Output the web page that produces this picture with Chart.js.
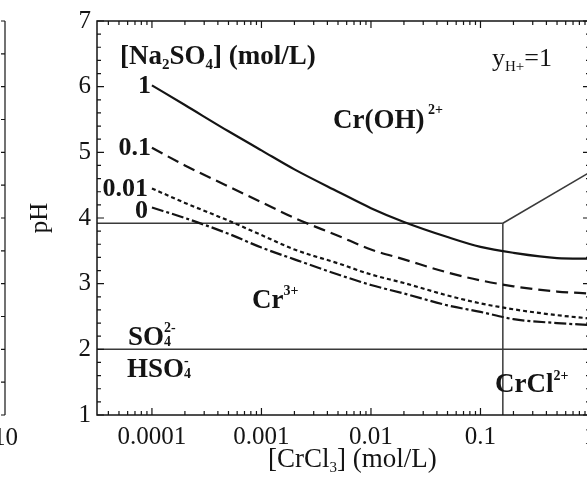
<!DOCTYPE html>
<html><head><meta charset="utf-8">
<script src="https://cdn.jsdelivr.net/npm/chart.js@4.4.1/dist/chart.umd.min.js"></script>
<style>
html,body{margin:0;padding:0;background:#fff;overflow:hidden;width:587px;height:486px}
#wrap{position:absolute;left:0;top:0;width:600px;height:486px}
</style></head><body>
<div id="wrap"><canvas id="c"></canvas></div>
<script>
// ---- data ----
const crcl3 = [0.0001, 0.0002, 0.0005, 0.001, 0.002, 0.005, 0.01, 0.02, 0.05, 0.1, 0.2, 0.5, 1];
const pH_na2so4_1    = [6.02, 5.72, 5.32, 5.03, 4.74, 4.40, 4.15, 3.94, 3.71, 3.56, 3.47, 3.39, 3.38];
const pH_na2so4_0_1  = [5.07, 4.80, 4.48, 4.24, 4.00, 3.73, 3.52, 3.37, 3.17, 3.05, 2.96, 2.88, 2.85];
const pH_na2so4_0_01 = [4.45, 4.23, 3.96, 3.74, 3.52, 3.31, 3.14, 3.01, 2.82, 2.70, 2.61, 2.52, 2.47];
const pH_na2so4_0    = [4.16, 4.00, 3.76, 3.55, 3.37, 3.14, 2.98, 2.85, 2.67, 2.57, 2.46, 2.40, 2.37];
const seriesLabels = ['1', '0.1', '0.01', '0'];

// phase boundaries
const crohBoundX = [3.15e-5, 0.16], crohBoundY = [3.92, 3.92];
const crclBoundX = [0.16, 0.16],    crclBoundY = [3.92, 1];
const crclCrohX  = [0.16, 1],       crclCrohY  = [3.92, 4.70];
const so4BoundX  = [3.15e-5, 1],    so4BoundY  = [2, 2];

const xTickValues = [0.0001, 0.001, 0.01, 0.1, 1];
const xTickLabels = ['0.0001', '0.001', '0.01', '0.1', '1'];
const yTickValues = [1, 2, 3, 4, 5, 6, 7];

// ---- styling ----
const SERIF = '"Liberation Serif", "Times New Roman", serif';
const INK = '#141414';
const LINE = '#3a3a3a';

function pts(xs, ys) { return xs.map((x, i) => ({ x: x, y: ys[i] })); }
function curve(label, ys, dash) {
  return { label: label, data: pts(crcl3, ys), borderColor: INK, borderWidth: 2.2, borderDash: dash,
           pointRadius: 0, tension: 0.4, cubicInterpolationMode: 'monotone', fill: false };
}
function boundary(xs, ys) {
  return { label: '', data: pts(xs, ys), borderColor: LINE, borderWidth: 1.5, pointRadius: 0, tension: 0, fill: false };
}

function rich(ctx, x, y, parts, align) {
  let total = 0;
  const setFont = p => { ctx.font = (p.b ? 'bold ' : '') + p.s + 'px ' + SERIF; };
  const widths = parts.map(p => {
    setFont(p);
    if (p.stack) return Math.max(ctx.measureText(p.sub).width, ctx.measureText(p.sup).width);
    return ctx.measureText(p.t).width;
  });
  widths.forEach(w => total += w);
  let cx = align === 'right' ? x - total : x;
  ctx.textAlign = 'left';
  ctx.textBaseline = 'alphabetic';
  ctx.fillStyle = INK;
  parts.forEach((p, i) => {
    setFont(p);
    if (p.stack) {
      ctx.fillText(p.sub, cx, y + p.subDy);
      ctx.fillText(p.sup, cx, y + p.supDy);
    } else {
      ctx.fillText(p.t, cx, y + (p.dy || 0));
    }
    cx += widths[i];
  });
}

const decor = {
  id: 'decor',
  afterDraw(chart) {
    const ctx = chart.ctx;
    const a = chart.chartArea;
    const xs = chart.scales.x, ys = chart.scales.y;
    ctx.save();
    ctx.strokeStyle = INK;
    ctx.lineWidth = 1.5;
    ctx.strokeRect(a.left, a.top, a.right - a.left, a.bottom - a.top);
    ctx.lineWidth = 1.2;
    ctx.beginPath();
    for (let e = -5; e <= 0; e++) {
      for (let m = 1; m <= 9; m++) {
        const v = m * Math.pow(10, e);
        if (v < xs.min * 0.999 || v > xs.max * 1.001) continue;
        const px = xs.getPixelForValue(v);
        const len = m === 1 ? 7 : 4;
        ctx.moveTo(px, a.bottom); ctx.lineTo(px, a.bottom - len);
        ctx.moveTo(px, a.top); ctx.lineTo(px, a.top + len);
      }
    }
    for (let k = 0; k <= 30; k++) {
      const v = 1 + k * 0.2;
      const py = ys.getPixelForValue(v);
      const len = (k % 5 === 0) ? 7 : 4;
      ctx.moveTo(a.left, py); ctx.lineTo(a.left + len, py);
      ctx.moveTo(a.right, py); ctx.lineTo(a.right - len, py);
    }
    // remnant of neighbouring panel at far left
    ctx.moveTo(5, a.top); ctx.lineTo(5, a.bottom);
    for (let k = 0; k <= 12; k++) {
      const py = ys.getPixelForValue(1 + k * 0.5);
      ctx.moveTo(5, py); ctx.lineTo(1, py);
    }
    ctx.stroke();

    const B = 27, S = 15;
    rich(ctx, 120, 64, [
      { t: '[Na', s: B, b: true }, { t: '2', s: S, b: true, dy: 5 }, { t: 'SO', s: B, b: true },
      { t: '4', s: S, b: true, dy: 5 }, { t: '] (mol/L)', s: B, b: true }]);
    rich(ctx, 492, 66, [{ t: 'y', s: 26 }, { t: 'H+', s: 15, dy: 5 }, { t: '=1', s: 26 }]);
    rich(ctx, 151, 93, [{ t: seriesLabels[0], s: 26, b: true }], 'right');
    rich(ctx, 151, 155, [{ t: seriesLabels[1], s: 26, b: true }], 'right');
    rich(ctx, 148, 196, [{ t: seriesLabels[2], s: 26, b: true }], 'right');
    rich(ctx, 148, 218, [{ t: seriesLabels[3], s: 26, b: true }], 'right');
    rich(ctx, 333, 128, [{ t: 'Cr(OH)', s: B, b: true }, { t: ' 2+', s: 14, b: true, dy: -14 }]);
    rich(ctx, 252, 308, [{ t: 'Cr', s: B, b: true }, { t: '3+', s: 14, b: true, dy: -13 }]);
    rich(ctx, 128, 345, [{ t: 'SO', s: B, b: true }, { stack: true, sub: '4', sup: '2-', subDy: 1, supDy: -13, s: 14, b: true }]);
    rich(ctx, 127, 377, [{ t: 'HSO', s: B, b: true }, { stack: true, sub: '4', sup: '-', subDy: 1, supDy: -12, s: 14, b: true }]);
    rich(ctx, 495, 392, [{ t: 'CrCl', s: B, b: true }, { t: '2+', s: 14, b: true, dy: -12 }]);
    rich(ctx, 268, 467, [{ t: '[CrCl', s: 27 }, { t: '3', s: 15, dy: 5 }, { t: '] (mol/L)', s: 27 }]);
    rich(ctx, 18, 445, [{ t: '10', s: 25 }], 'right');
    ctx.restore();
  }
};

new Chart(document.getElementById('c'), {
  type: 'line',
  data: {
    datasets: [
      curve(seriesLabels[0], pH_na2so4_1, []),
      curve(seriesLabels[1], pH_na2so4_0_1, [12, 6]),
      curve(seriesLabels[2], pH_na2so4_0_01, [4, 3]),
      curve(seriesLabels[3], pH_na2so4_0, [12, 3, 3, 3]),
      boundary(crohBoundX, crohBoundY),
      boundary(crclBoundX, crclBoundY),
      boundary(crclCrohX, crclCrohY),
      boundary(so4BoundX, so4BoundY)
    ]
  },
  options: {
    responsive: true,
    maintainAspectRatio: false,
    animation: false,
    layout: { padding: { left: 0, right: 10, top: 21, bottom: 0 } },
    plugins: { legend: { display: false }, tooltip: { enabled: false } },
    scales: {
      x: {
        type: 'logarithmic', min: 3.15e-5, max: 1,
        grid: { display: false, drawTicks: false }, border: { display: false },
        ticks: {
          autoSkip: false, maxRotation: 0, padding: 7, color: INK,
          font: { family: SERIF, size: 25 },
          callback: v => { const i = xTickValues.findIndex(t => Math.abs(t - v) / t < 1e-6); return i >= 0 ? xTickLabels[i] : ''; }
        },
        afterBuildTicks: s => { s.ticks = xTickValues.map(v => ({ value: v })); },
        afterFit: s => { s.height = 71; s.paddingLeft = 0; s.paddingRight = 0; }
      },
      y: {
        type: 'linear', min: 1, max: 7,
        grid: { display: false, drawTicks: false }, border: { display: false },
        ticks: { stepSize: 1, padding: 6, color: INK, font: { family: SERIF, size: 25 } },
        afterBuildTicks: s => { s.ticks = yTickValues.map(v => ({ value: v })); },
        title: { display: true, text: 'pH', color: INK, font: { family: SERIF, size: 25 }, padding: { top: 25, bottom: 0 } },
        afterFit: s => { s.width = 97; s.paddingTop = 0; s.paddingBottom = 0; }
      }
    }
  },
  plugins: [decor]
});
</script>
</body></html>
